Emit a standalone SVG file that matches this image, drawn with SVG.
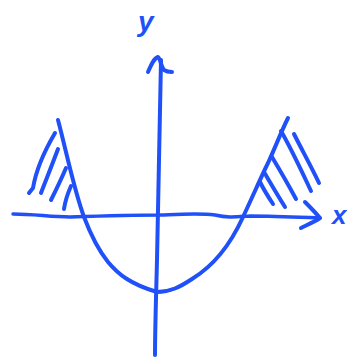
<svg xmlns="http://www.w3.org/2000/svg" width="347" height="358" viewBox="0 0 347 358">
<style>
.s{fill:none;stroke:#2050f8;stroke-linecap:round;stroke-linejoin:round}
.t{fill:#2050f8;font-family:"Liberation Sans",sans-serif;font-style:italic;font-weight:bold}
</style>
<rect width="347" height="358" fill="#fff"/>
<g id="axes">
<path class="s" stroke-width="4" d="M155,355 C155,330 156,300 157,260 C158,200 160,130 161,60"/>
<path class="s" stroke-width="4" d="M148,72 C151,65 154,58 158,57 C160,58 161,66 164,70 C167,72 170,72 172,72"/>
<path class="s" stroke-width="3.5" d="M13,214 C35,214 50,217 70,217 C100,216 130,215 160,215 C185,214 200,213 215,215 C228,218 235,217 250,216 C275,216 295,217 320,218"/>
<path class="s" stroke-width="4" d="M305,202 C310,207 315,212 320,218 C314,222 307,225 301,228"/>
</g>
<g id="curve">
<path class="s" stroke-width="4" d="M58,120 C66,150 74,190 84,217 C92,238 100,252 108,262 C118,274 130,284 157,292 C170,292 180,287 192,279 C210,268 228,250 243,217 C252,198 262,175 268,163 C275,148 281,132 288,118"/>
</g>
<g id="hatch">
<path class="s" stroke-width="4" d="M55,133 C45,150 36,170 33,188 L29,193"/>
<path class="s" stroke-width="4" d="M58,149 C52,165 46,180 41,193"/>
<path class="s" stroke-width="4" d="M66,168 C60,182 55,192 51,200"/>
<path class="s" stroke-width="4" d="M71,186 C67,195 65,202 64,209"/>
<path class="s" stroke-width="4" d="M294,134 C302,150 312,168 319,183"/>
<path class="s" stroke-width="4" d="M281,131 C292,150 302,172 311,191"/>
<path class="s" stroke-width="4" d="M272,157 C281,172 289,186 296,199"/>
<path class="s" stroke-width="4" d="M264,172 C271,184 278,196 285,207"/>
<path class="s" stroke-width="4" d="M260,182 C264,190 269,198 273,204"/>
</g>
<g id="labels">
<text class="t" x="138" y="31" font-size="28">y</text>
<text class="t" x="332" y="224" font-size="26">x</text>
</g>
</svg>
